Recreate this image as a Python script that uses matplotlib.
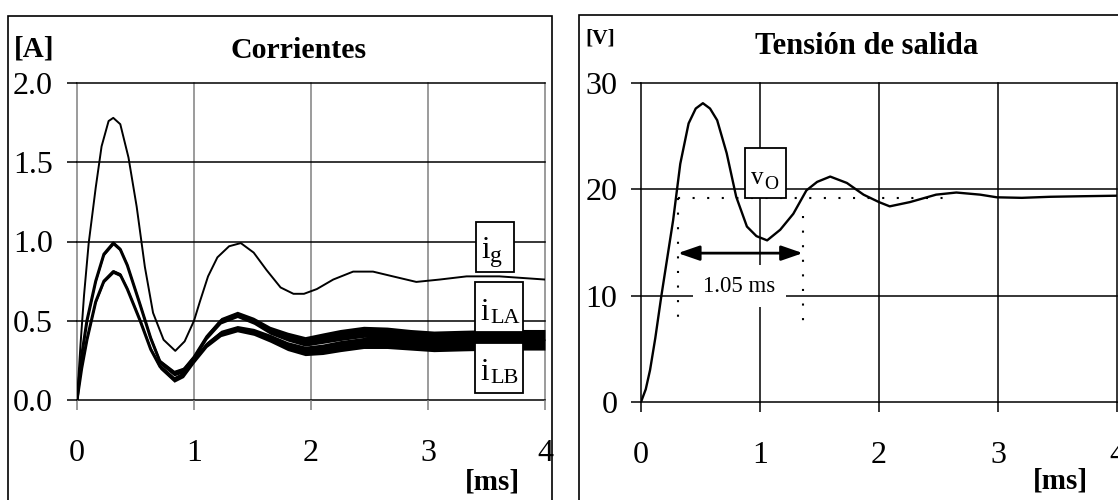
import matplotlib
matplotlib.use("Agg")
import matplotlib.pyplot as plt
from matplotlib.patches import Rectangle

plt.rcParams["font.family"] = ["Liberation Serif", "DejaVu Serif"]

# ---- currents [A] vs time [ms] ----
t_g = [0, 0.03, 0.06, 0.10, 0.16, 0.21, 0.27, 0.31, 0.37, 0.44, 0.51, 0.58,
       0.65, 0.74, 0.84, 0.92, 1.00, 1.05, 1.12, 1.20, 1.30, 1.40, 1.51, 1.62,
       1.74, 1.85, 1.94, 2.05, 2.19, 2.36, 2.53, 2.70, 2.90, 3.10, 3.33, 3.61, 4.0]
i_g = [0, 0.35, 0.66, 0.99, 1.34, 1.60, 1.76, 1.78, 1.74, 1.53, 1.22, 0.84,
       0.55, 0.38, 0.31, 0.37, 0.50, 0.62, 0.78, 0.90, 0.97, 0.99, 0.93, 0.82,
       0.71, 0.67, 0.67, 0.70, 0.76, 0.81, 0.81, 0.78, 0.745, 0.76, 0.78, 0.78, 0.76]

t_L = [0, 0.04, 0.085, 0.16, 0.23, 0.31, 0.37, 0.43, 0.54, 0.63, 0.71, 0.83,
       0.91, 1.00, 1.11, 1.23, 1.37, 1.51, 1.65, 1.80, 1.95, 2.10, 2.25, 2.45,
       2.65, 2.85, 3.05, 3.30, 3.60, 4.0]
i_LA = [0, 0.28, 0.50, 0.75, 0.92, 0.99, 0.95, 0.85, 0.60, 0.39, 0.24, 0.17,
        0.19, 0.27, 0.40, 0.50, 0.54, 0.50, 0.44, 0.40, 0.37, 0.39, 0.41, 0.43,
        0.425, 0.41, 0.40, 0.405, 0.41, 0.41]
i_LB = [0, 0.20, 0.38, 0.62, 0.75, 0.81, 0.79, 0.70, 0.50, 0.32, 0.21, 0.13,
        0.16, 0.25, 0.35, 0.42, 0.45, 0.43, 0.39, 0.34, 0.31, 0.32, 0.34, 0.36,
        0.36, 0.35, 0.34, 0.345, 0.35, 0.35]
# switching ripple (half peak-to-peak) on the inductor currents
ripple_L = [0, 0.006, 0.008, 0.010, 0.010, 0.012, 0.012, 0.012, 0.013, 0.014,
            0.016, 0.018, 0.018, 0.018, 0.018, 0.020, 0.020, 0.022, 0.025, 0.028,
            0.030, 0.033, 0.035, 0.035, 0.035, 0.035, 0.035, 0.035, 0.035, 0.035]

# ---- output voltage [V] vs time [ms] ----
t_v = [0, 0.04, 0.076, 0.12, 0.17, 0.22, 0.27, 0.33, 0.40, 0.46, 0.52, 0.58,
       0.64, 0.72, 0.80, 0.89, 0.97, 1.06, 1.17, 1.28, 1.39, 1.48, 1.59, 1.73,
       1.87, 2.00, 2.09, 2.26, 2.48, 2.65, 2.85, 2.99, 3.20, 3.44, 3.70, 4.0]
v_o = [0, 1.2, 3.0, 6.0, 9.9, 13.5, 17.1, 22.4, 26.2, 27.6, 28.1, 27.6,
       26.5, 23.4, 19.3, 16.5, 15.6, 15.2, 16.2, 17.7, 19.9, 20.7, 21.2, 20.6,
       19.5, 18.8, 18.4, 18.8, 19.5, 19.7, 19.5, 19.25, 19.2, 19.3, 19.35, 19.4]

v_final = 19.2              # steady-state level (dotted reference)
t_period = [0.31, 1.36]     # oscillation period marker, 1.05 ms
period_label = "1.05 ms"

x_ticks = [0, 1, 2, 3, 4]
i_ticks = [0.0, 0.5, 1.0, 1.5, 2.0]
i_ticklabels = ["0.0", "0.5", "1.0", "1.5", "2.0"]
v_ticks = [0, 10, 20, 30]
v_ticklabels = ["0", "10", "20", "30"]

W, H = 1118, 500
fig = plt.figure(figsize=(W / 100, H / 100), dpi=100)


def px_axes(x0, y0, x1, y1):
    return fig.add_axes([x0 / W, 1 - y1 / H, (x1 - x0) / W, (y1 - y0) / H])


def px_text(x, y, s, **kw):
    return fig.text(x / W, 1 - y / H, s, **kw)


def px_box(x0, y0, x1, y1, **kw):
    r = Rectangle((x0 / W, 1 - y1 / H), (x1 - x0) / W, (y1 - y0) / H,
                  transform=fig.transFigure, **kw)
    fig.patches.append(r)
    return r


def series_label(box, main, sub, x_main, base_main, x_sub, base_sub,
                 size_main, size_sub):
    px_box(*box, fc="white", ec="black", lw=1.3, zorder=5)
    px_text(x_main, base_main, main, ha="left", va="baseline",
            fontsize=size_main, zorder=6)
    px_text(x_sub, base_sub, sub, ha="left", va="baseline",
            fontsize=size_sub, zorder=6)


def style(ax, yticks, ylabels, ylim, xcol, ycol, ypad):
    ax.set_xlim(0, 4)
    ax.set_ylim(*ylim)
    ax.set_xticks(x_ticks)
    ax.set_xticklabels([str(v) for v in x_ticks])
    ax.set_yticks(yticks)
    ax.set_yticklabels(ylabels)
    ax.patch.set_alpha(0)
    for s in ax.spines.values():
        s.set_visible(False)
    ax.tick_params(axis="x", direction="out", length=7, width=1.1, color=xcol,
                   pad=21, labelsize=23)
    ax.tick_params(axis="y", direction="out", length=7, width=1.1, color=ycol,
                   pad=ypad, labelsize=23)
    for v in x_ticks:
        ax.axvline(v, color=xcol, lw=1.1, clip_on=False, zorder=0.5)
    for v in yticks:
        ax.axhline(v, color=ycol, lw=1.1, clip_on=False, zorder=0.5)


# frames around each panel
px_box(8, 16, 552, 540, fill=False, ec="black", lw=1.2, zorder=1)
px_box(579, 15, 1200, 540, fill=False, ec="black", lw=1.2, zorder=1)

# ---------------- left panel: currents ----------------
axL = px_axes(77, 83, 545, 400)
style(axL, i_ticks, i_ticklabels, (0, 2), "#808080", "black", 10.5)

for center in (i_LA, i_LB):
    lo = [c - r for c, r in zip(center, ripple_L)]
    hi = [c + r for c, r in zip(center, ripple_L)]
    axL.fill_between(t_L, lo, hi, color="black", lw=0, zorder=2)
    axL.plot(t_L, center, color="black", lw=2.2, zorder=2)
axL.plot(t_g, i_g, color="black", lw=1.4, zorder=3)

series_label((476, 222, 514, 272), "i", "g", 481, 258, 490, 262, 22, 17)
series_label((475, 282, 523, 332), "i", "LA", 480.5, 320, 490, 323, 22, 16)
series_label((475, 343, 523, 393), "i", "LB", 480.5, 380, 490, 383, 22, 16)

px_text(34, 49, "[A]", ha="center", va="center", fontsize=21, fontweight="bold")
px_text(299, 58, "Corrientes", ha="center", va="baseline", fontsize=21.5,
        fontweight="bold")
px_text(492, 482, "[ms]", ha="center", va="center", fontsize=21,
        fontweight="bold")

# ---------------- right panel: output voltage ----------------
axR = px_axes(641, 83, 1117, 402)
style(axR, v_ticks, v_ticklabels, (0, 30), "black", "black", 10)

dot = (0, (1, 6))
axR.plot([t_period[0], 2.6], [v_final, v_final], color="black", lw=1.5,
         ls=dot, zorder=2)
axR.plot([t_period[0], t_period[0]], [v_final, 7.4], color="black", lw=1.5,
         ls=dot, zorder=2)
axR.plot([t_period[1], t_period[1]], [17.5, 7.4], color="black", lw=1.5,
         ls=dot, zorder=2)
axR.plot(t_v, v_o, color="black", lw=1.7, zorder=3)

axR.annotate("", xy=(t_period[1], 14.0), xytext=(t_period[0], 14.0),
             arrowprops=dict(arrowstyle="<|-|>,head_length=1.3,head_width=0.45",
                             color="black", lw=2, mutation_scale=10,
                             shrinkA=0, shrinkB=0), zorder=4)
axR.text(sum(t_period) / 2 - 0.01, 10.9, period_label, ha="center", va="center",
         fontsize=16.5, zorder=4,
         bbox=dict(boxstyle="square,pad=0.45", fc="white", ec="none"))

series_label((745, 148, 786, 198), "v", "O", 751, 184, 764, 189, 18, 14)

px_text(600, 39, "[V]", ha="center", va="center", fontsize=15.5,
        fontweight="bold")
px_text(867, 54, "Tensión de salida", ha="center", va="baseline",
        fontsize=22, fontweight="bold")
px_text(1060, 481, "[ms]", ha="center", va="center", fontsize=21,
        fontweight="bold")

fig.savefig("out.png", dpi=100)
